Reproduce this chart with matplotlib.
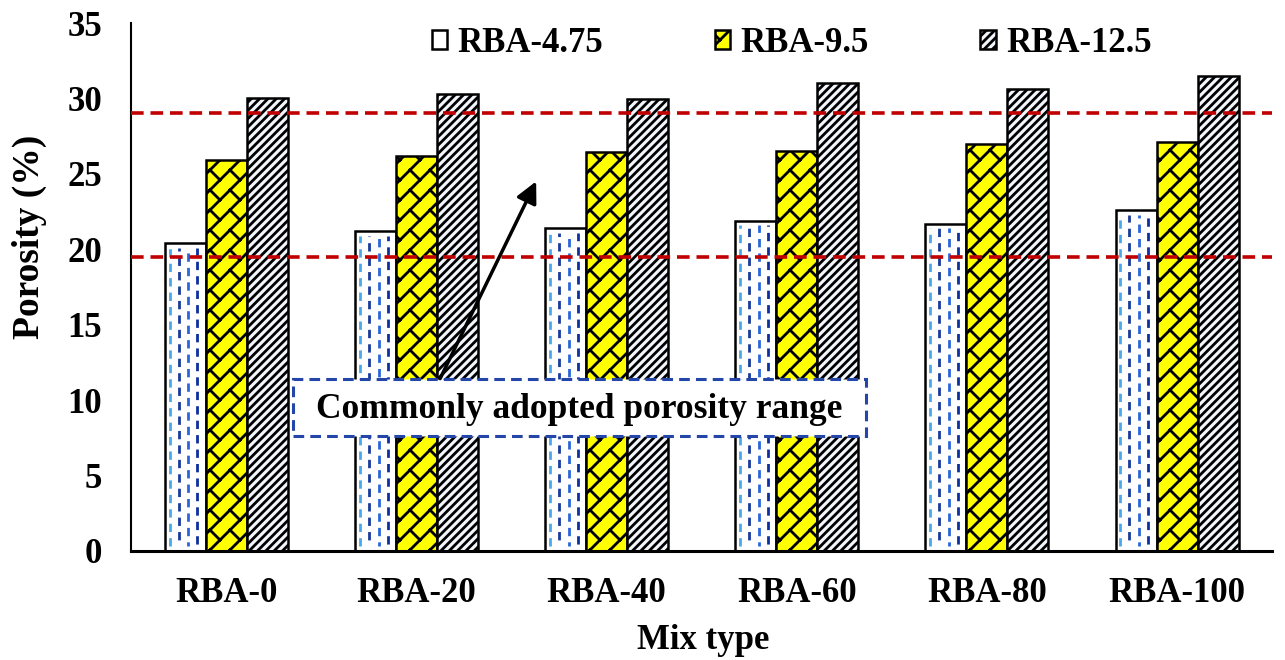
import numpy as np
import matplotlib
matplotlib.use("Agg")
import matplotlib.pyplot as plt
import matplotlib.hatch as mhatch
from matplotlib.path import Path
from matplotlib.patches import Rectangle

# ---------------- data ----------------
categories = ["RBA-0", "RBA-20", "RBA-40", "RBA-60", "RBA-80", "RBA-100"]
series_names = ["RBA-4.75", "RBA-9.5", "RBA-12.5"]
rba_475 = [20.4, 21.2, 21.4, 21.9, 21.7, 22.6]
rba_95 = [25.9, 26.2, 26.45, 26.5, 26.95, 27.1]
rba_125 = [30.0, 30.3, 29.95, 31.0, 30.6, 31.5]
range_low = 19.5
range_high = 29.05
y_ticks = [0, 5, 10, 15, 20, 25, 30, 35]
annotation_text = "Commonly adopted porosity range"


# ------------- custom "diagonal brick" hatch (replaces the unused '*') -------------
class DiagBrick(mhatch.HatchPatternBase):
    n = 5
    s = 2.0 / 5.0

    def __init__(self, hatch, density):
        if hatch.count('*') == 0:
            self.num_vertices = 0
            return
        n, s = self.n, self.s
        segs = []
        for k in range(-n - 1, n + 2):
            c = k / n
            segs.append(((-1.0, -1.0 + c), (2.0, 2.0 + c)))
        for k in range(-n - 1, n + 1):
            off = (k % 2) * s / 2
            for j in range(-8, int(3 / s) + 8):
                u = j * s + off
                c0, c1 = k / n, (k + 1) / n
                p0 = ((u - c0) / 2, (u + c0) / 2)
                p1 = ((u - c1) / 2, (u + c1) / 2)
                if -0.3 <= p0[0] <= 1.3 and -0.3 <= p0[1] <= 1.3:
                    segs.append((p0, p1))
        self.segs = np.array(segs, dtype=float)
        self.num_vertices = 2 * len(segs)

    def set_vertices_and_codes(self, vertices, codes):
        vertices[0::2] = self.segs[:, 0]
        vertices[1::2] = self.segs[:, 1]
        codes[0::2] = Path.MOVETO
        codes[1::2] = Path.LINETO


mhatch._hatch_types = [t for t in mhatch._hatch_types if t is not mhatch.Stars] + [DiagBrick]

# ---------------- style ----------------
plt.rcParams['font.family'] = ['Liberation Serif', 'DejaVu Serif']
plt.rcParams['font.weight'] = 'bold'
plt.rcParams['hatch.linewidth'] = 2.0

fig = plt.figure(figsize=(12.85, 6.6), dpi=100)
ax = fig.add_axes([0.102, 0.1655, 0.888, 0.7995])

x = np.arange(len(categories))
w = 0.2156

b1 = ax.bar(x - w, rba_475, w, facecolor='white', edgecolor='black', linewidth=1.8,
            label=series_names[0], zorder=2)
b2 = ax.bar(x, rba_95, w, facecolor='#ffff00', edgecolor='black', linewidth=1.8,
            hatch='*', label=series_names[1], zorder=2)
b3 = ax.bar(x + w, rba_125, w, facecolor='#f2f5fc', edgecolor='black', linewidth=1.8,
            hatch='////', label=series_names[2], zorder=2)

# dashed blue vertical texture inside RBA-4.75 bars
col_frac = [0.12, 0.34, 0.58, 0.80]
col_color = ['#4aa8ea', '#1a3a9c', '#2a66d8', '#0c2f9e']
col_off = [0, 3, 1.5, 4.5]
for rect in b1:
    x0, bw, h = rect.get_x(), rect.get_width(), rect.get_height()
    for f, c, o in zip(col_frac, col_color, col_off):
        ax.plot([x0 + f * bw, x0 + f * bw], [0.3, h - 0.3], color=c, lw=2.0,
                ls=(o, (3.0, 2.2)), zorder=2.5, solid_capstyle='butt', dash_capstyle='butt')

# red dashed range lines
for yv in (range_low, range_high):
    ax.axhline(yv, color='#c00000', lw=2.6, ls=(0, (3.5, 1.9)), zorder=3)

# annotation box + text + arrow
ax.add_patch(Rectangle((0.35, 7.64), 3.015, 3.78, facecolor='white', edgecolor='#2346a8',
                       lw=2.2, ls=(0, (3.5, 2.0)), zorder=5))
ax.text(1.857, 9.4, annotation_text, ha='center', va='center', fontsize=25.5,
        fontweight='bold', zorder=6)
ax.annotate('', xy=(1.63, 24.5), xytext=(1.125, 11.42),
            arrowprops=dict(arrowstyle='-|>', color='black', lw=2.5, mutation_scale=32,
                            shrinkA=0, shrinkB=0), zorder=6)

# axes formatting
ax.set_xlim(-0.5, 5.5)
ax.set_ylim(0, 35)
ax.set_yticks(y_ticks)
ax.set_xticks(x)
ax.set_xticklabels(categories)
ax.tick_params(axis='both', length=0, labelsize=25)
ax.tick_params(axis='y', pad=21)
ax.tick_params(axis='x', pad=19)
for lab in ax.get_xticklabels() + ax.get_yticklabels():
    lab.set_fontweight('bold')
for sp in ('top', 'right'):
    ax.spines[sp].set_visible(False)
ax.spines['left'].set_linewidth(1.5)
ax.spines['bottom'].set_linewidth(2.2)

ax.set_ylabel('Porosity (%)', fontsize=27, fontweight='bold')
ax.yaxis.set_label_coords(-0.0735, 0.594)
ax.set_xlabel('Mix type', fontsize=25, fontweight='bold')
ax.xaxis.set_label_coords(0.501, -0.138)

ax.legend(ncol=3, loc='center', bbox_to_anchor=(0.579, 0.962), frameon=False,
          handlelength=0.45, handleheight=0.45, handletextpad=0.3, columnspacing=3.2,
          prop={'family': 'Liberation Serif', 'weight': 'bold', 'size': 25})

fig.savefig('out.png', dpi=100)
